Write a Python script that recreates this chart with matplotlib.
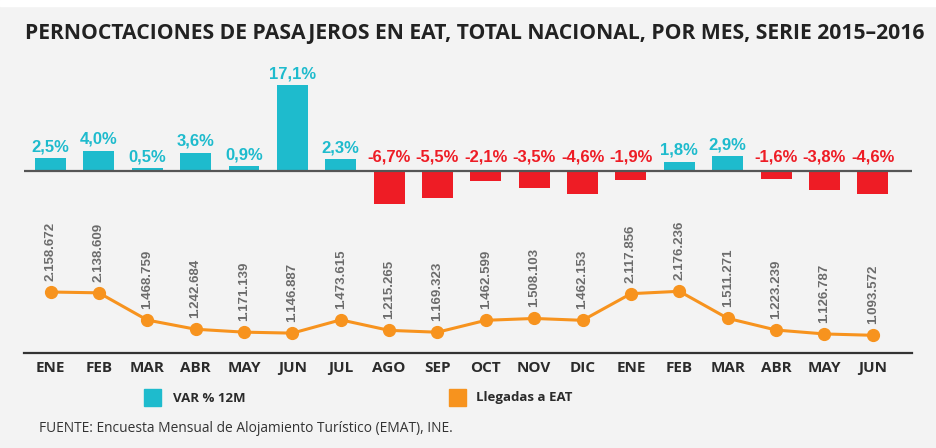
import matplotlib
matplotlib.use("Agg")
import matplotlib.pyplot as plt
from matplotlib.patches import Rectangle

# datos
meses = ["ENE", "FEB", "MAR", "ABR", "MAY", "JUN", "JUL", "AGO", "SEP",
         "OCT", "NOV", "DIC", "ENE", "FEB", "MAR", "ABR", "MAY", "JUN"]
var_12m = [2.5, 4.0, 0.5, 3.6, 0.9, 17.1, 2.3, -6.7, -5.5,
           -2.1, -3.5, -4.6, -1.9, 1.8, 2.9, -1.6, -3.8, -4.6]
llegadas = [2158672, 2138609, 1468759, 1242684, 1171139, 1146887, 1473615, 1215265, 1169323,
            1462599, 1508103, 1462153, 2117856, 2176236, 1511271, 1223239, 1126787, 1093572]

titulo = "PERNOCTACIONES DE PASAJEROS EN EAT, TOTAL NACIONAL, POR MES, SERIE 2015\u20132016"
fuente = "FUENTE: Encuesta Mensual de Alojamiento Tur\u00edstico (EMAT), INE."

CYAN = "#1ebbcd"
RED = "#ee1c25"
ORANGE = "#f7931e"
BG = "#f3f3f3"
NARROW = ["Liberation Sans Narrow", "Liberation Sans", "DejaVu Sans"]

W, H = 936, 448
fig = plt.figure(figsize=(W / 100, H / 100), dpi=100, facecolor=BG)
fig.add_artist(Rectangle((0, 1 - 6 / H), 1, 6 / H, transform=fig.transFigure,
                         color="white", zorder=0))

def px_axes(x0, y0, x1, y1):
    # pixel box (desde arriba) -> axes
    return fig.add_axes([x0 / W, 1 - y1 / H, (x1 - x0) / W, (y1 - y0) / H])

x = list(range(len(meses)))
xlim = (-0.548, 17.81)

# --- barras de variacion ---
ax1 = px_axes(24, 60, 912, 215)
ax1.set_facecolor("none")
cols = [CYAN if v >= 0 else RED for v in var_12m]
ax1.bar(x, var_12m, width=0.64, color=cols, zorder=2)
ax1.axhline(0, color="#555555", lw=1.6, zorder=3)
ax1.set_xlim(*xlim)
ax1.set_ylim(-8.8, 22.2)
ax1.axis("off")
for i, v in enumerate(var_12m):
    lab = f"{v:.1f}%".replace(".", ",")
    if v >= 0:
        ax1.annotate(lab, (i, v), xytext=(0, 3), textcoords="offset points",
                     ha="center", va="bottom", color=CYAN, fontsize=12,
                     fontweight="bold", family=NARROW)
    else:
        ax1.annotate(lab, (i, 0), xytext=(0, 4.5), textcoords="offset points",
                     ha="center", va="bottom", color=RED, fontsize=12,
                     fontweight="bold", family=NARROW)

# --- linea de llegadas ---
ax2 = px_axes(24, 215, 912, 353)
ax2.set_facecolor("none")
ax2.plot(x, llegadas, color=ORANGE, lw=2.2, marker="o", ms=8.5, zorder=3,
         clip_on=False)
ax2.set_xlim(*xlim)
ax2.set_ylim(658000, 658000 + 138 / 4.064e-5)
for s in ["top", "left", "right"]:
    ax2.spines[s].set_visible(False)
ax2.spines["bottom"].set_color("#333333")
ax2.spines["bottom"].set_linewidth(1.6)
ax2.set_yticks([])
ax2.set_xticks(x)
ax2.set_xticklabels(meses, fontsize=11, fontweight="bold", color="#2b2b2b",
                    family="Open Sans")
ax2.tick_params(axis="x", length=0, pad=6)
for i, v in enumerate(llegadas):
    lab = f"{v:,}".replace(",", ".")
    ax2.annotate(lab, (i, v), xytext=(0, 8), textcoords="offset points",
                 ha="center", va="bottom", rotation=90, color="#6b6b6b",
                 fontsize=9.5, fontweight="bold", family="Liberation Sans")

# --- titulo, leyenda, fuente ---
fig.text(25 / W, 1 - 34 / H, titulo, ha="left", va="center", fontsize=15.2,
         fontweight="bold", color="#222222", family="Open Sans")

fig.add_artist(Rectangle((144 / W, 1 - 406 / H), 17 / W, 17 / H,
                         transform=fig.transFigure, color=CYAN))
fig.text(173 / W, 1 - 398 / H, "VAR % 12M", ha="left", va="center",
         fontsize=9.5, fontweight="bold", color="#2b2b2b", family="Open Sans")
fig.add_artist(Rectangle((449 / W, 1 - 406 / H), 17 / W, 17 / H,
                         transform=fig.transFigure, color=ORANGE))
fig.text(476 / W, 1 - 398 / H, "Llegadas a EAT", ha="left", va="center",
         fontsize=9.5, fontweight="bold", color="#2b2b2b", family="Open Sans")

fig.text(39 / W, 1 - 428 / H, fuente, ha="left", va="center", fontsize=9.9,
         color="#333333", family="Open Sans")

fig.savefig("out.png", dpi=100, facecolor=BG)
